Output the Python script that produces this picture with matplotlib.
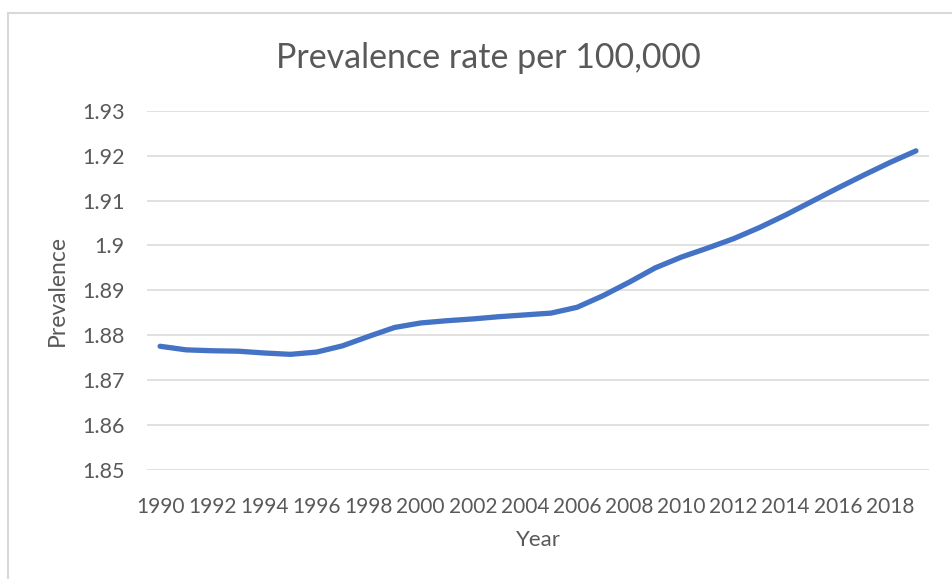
import matplotlib.pyplot as plt
import numpy as np

plt.rcParams['font.family'] = ['Lato', 'DejaVu Sans']

years = list(range(1990, 2020))
prevalence = [1.8775, 1.8767, 1.8765, 1.8764, 1.8760, 1.8757, 1.8762, 1.8776,
              1.8797, 1.8817, 1.8827, 1.8832, 1.8836, 1.8841, 1.8845, 1.8849,
              1.8862, 1.8888, 1.8918, 1.8950, 1.8974, 1.8994, 1.9015, 1.9040,
              1.9068, 1.9098, 1.9128, 1.9157, 1.9185, 1.9211]
y_ticks = [1.85, 1.86, 1.87, 1.88, 1.89, 1.90, 1.91, 1.92, 1.93]
y_tick_labels = ['1.85', '1.86', '1.87', '1.88', '1.89', '1.9', '1.91', '1.92', '1.93']

text_col = '#595959'
grid_col = '#d9d9d9'

fig = plt.figure(figsize=(9.53, 5.79), dpi=100)
ax = fig.add_axes([0.1543, 0.1891, 0.8205, 0.6192])

x = np.arange(len(years))
ax.plot(x, prevalence, color='#4472C4', lw=3.8, solid_capstyle='round',
        solid_joinstyle='round', zorder=3)

ax.set_xlim(-0.5, len(years) - 0.5)
ax.set_ylim(1.85, 1.93)
ax.set_yticks(y_ticks)
ax.set_yticklabels(y_tick_labels)
ax.set_xticks(x[::2])
ax.set_xticklabels([str(y) for y in years[::2]])
ax.tick_params(length=0, labelsize=15, colors=text_col)
ax.tick_params(axis='y', pad=16, labelsize=15.5)
ax.tick_params(axis='x', pad=20)

ax.grid(axis='y', color=grid_col, lw=1.1)
ax.set_axisbelow(True)
for s in ax.spines.values():
    s.set_visible(False)

ax.set_xlabel('Year', fontsize=16, color=text_col, labelpad=9)
ax.set_ylabel('Prevalence', fontsize=16.5, color=text_col, labelpad=10)

fig.text(0.512, 1 - 58 / 579, 'Prevalence rate per 100,000', fontsize=24.5,
         color=text_col, ha='center', va='center')

# chart frame: top and left edges
fig.add_artist(plt.Line2D([8 / 953, 1], [1 - 13 / 579, 1 - 13 / 579],
                          color=grid_col, lw=1.5))
fig.add_artist(plt.Line2D([8 / 953, 8 / 953], [0, 1 - 13 / 579],
                          color=grid_col, lw=1.5))

fig.savefig('out.png', dpi=100)
